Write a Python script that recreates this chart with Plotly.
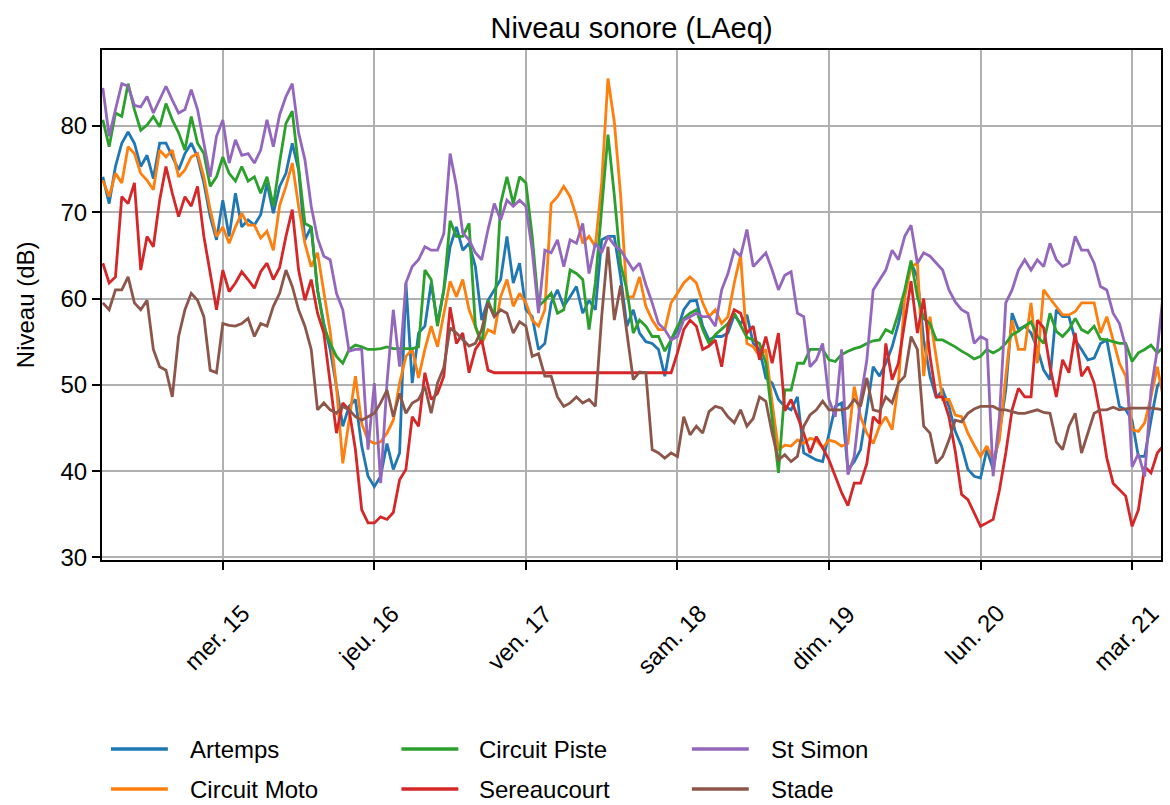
import pandas as pd
import plotly.graph_objects as go

# ---- data: hourly LAeq readings, starting 14th 05:00 ----
start_time = "2023-03-14 05:00"

artemps = [74.1, 71, 75.3, 78, 79.3, 78, 75.3, 76.6, 73.9, 78, 78, 76.4, 74.9, 76.8, 78, 76.4, 73.4, 69.5, 66.8, 71.4,
           67.2, 72.2, 68.3, 69.1, 68.5, 69.7, 73.4, 69.9, 73,
           74.5, 78, 74.9, 66.8, 68.3, 61, 57.1, 54.1, 49.8, 45.2, 47.5, 48.3, 42.9, 39.4, 38.2, 39.4, 43.2, 40.2, 42.1,
           61.8, 50.2, 56, 56.8, 61.8, 57.1, 61, 66,
           68.3, 65.6, 66.4, 63.7, 57.5, 59.8, 61, 62.2, 67.2, 61.8, 64.1, 58.7, 57.9, 54.1, 54.8, 59.5, 61, 59.1, 60.2,
           61.4, 58.3, 59.8, 58.7, 66.8, 67.2,
           67.2, 62.5, 56.8, 58.7, 56, 55, 54.8, 54.1, 51, 55.2, 56.4, 58.7, 59.7, 59.8, 56.8, 55.2, 55.6, 55.6, 56, 58.1,
           57.1, 58.1, 54.8, 54.1, 50.8, 50.2, 48.3,
           47.5, 47.1, 48.6, 42.1, 41.7, 41.3, 41.1, 44.4, 47.5, 47.9, 40.2, 41.1, 42.5, 47.1, 52.1, 51, 52.5, 54.4, 57.1,
           60.6, 64.1, 62.5, 55.2, 51, 48.5, 49.4, 47.5,
           44.6, 42.9, 40.2, 39.4, 39.2, 42.5, 40.2, 44.4, 49.4, 58.3, 56.4, 56.8, 56, 54.2, 51.7, 50.6, 58.7, 57.9, 57.9,
           55.2, 54.1, 52.9, 53.1, 54.8, 55.2, 51.4, 47.5, 47.1, 45.9, 41.7, 41.7, 45.9, 49.8, 51]

circuit_moto = [73.7, 71.8, 74.5, 73.4, 77.6, 76.8, 74.5, 73.7, 72.6, 77.2, 76.4, 77.2, 74.1, 74.9, 76.4, 76.8, 74.1,
                70.3, 67.2, 68.3, 66.4, 68.3, 69.9, 68.5, 68.5, 67, 67.8, 65.6, 70.8,
                73, 75.7, 70.7, 66.4, 63.7, 65.3, 61, 56.2, 49.8, 40.9, 45.9, 51, 45.5, 43.6, 43.2, 43.4, 44.4, 45.9,
                50.2, 53.3, 54.1, 50.8, 54.1, 56.8, 54.4, 58, 62,
                60.2, 62.2, 58.7, 56.8, 54.8, 56.4, 56, 60.2, 62.2, 59.1, 60.6, 59.5, 57.5, 56.8, 58.7, 71, 71.8, 73,
                71.8, 69.5, 66.4, 67.2, 66, 73.4, 85.5,
                80.5, 72, 60.2, 60.2, 62.5, 59.1, 57.5, 56.4, 56.4, 59.5, 60.6, 61.8, 62.5, 61.8, 59.5, 57.9, 58.7, 57.1,
                57.9, 61.8, 65, 54.8, 54.4, 53.3, 54.1, 47.9, 42.5,
                43, 42.9, 43.6, 43.2, 43.8, 43.6, 42.7, 43.6, 43.4, 42.9, 43.2, 49.8, 46.3, 44.4, 43.2, 45.2, 46.3, 44.8,
                50.2, 60.2, 63.7, 64.1, 51, 57.9, 52.9, 48.3, 48.3,
                46.5, 46.3, 44.4, 43, 41.7, 42.9, 41.3, 43.6, 51, 57.5, 54.1, 54.1, 59.5, 52.5, 61, 60, 59.1, 58.1, 58.1,
                58.5, 59.5, 59.5, 59.5, 56, 57.9, 55.2, 52.5, 51, 44.8, 44.6, 45.6, 48.6, 52.1, 48.3]

circuit_piste = [80.7, 77.6, 81.5, 81.1, 84.9, 81.9, 79.5, 80.1, 81.1, 79.9, 82.6, 80.7, 79.2, 77.2, 81.1, 78, 76.8,
                 73, 74.1, 76.4, 74.5, 73.6, 75.3, 73.6, 74.1, 72.2, 74.1, 70.7, 75.8,
                 80.3, 81.7, 75.5, 68.7, 68.3, 61, 56.8, 54.8, 53.3, 52.5, 54.1, 54.6, 54.4, 54.1, 54.1, 54.2, 54.4,
                 54.2, 54.2, 54.2, 54.2, 54.4, 63.3, 62.2, 56.8, 61, 69,
                 67.2, 67.2, 68.7, 56.8, 54.8, 59.8, 57.9, 71, 74.1, 71, 74.1, 73.4, 67.2, 59.1, 59.8, 60.6, 58.3, 58.7,
                 63.3, 62.9, 62.2, 56.4, 61.8, 70.3, 79,
                 72, 64, 61, 56, 57.5, 56.8, 55.6, 55.6, 53.9, 55.2, 56.8, 57.7, 58.3, 58.7, 56.4, 54.8, 55.8, 56.4,
                 57.1, 58.3, 56.8, 55.5, 55.2, 54.8, 52.5, 46.3, 39.8,
                 49.4, 49.4, 52.5, 52.5, 54.1, 54.1, 54.1, 52.9, 52.7, 53.5, 53.9, 54.2, 54.4, 54.8, 55.1, 55.2, 56.4,
                 56, 58.3, 61, 64.4, 60.2, 57.7, 57.1, 55.2, 55.2, 54.8,
                 54.4, 53.9, 53.5, 53, 53.3, 54.1, 53.7, 54.1, 54.8, 55.8, 56.2, 56.8, 57.3, 55.6, 54.8, 58.3, 56.2,
                 55.6, 56.4, 57.7, 56.4, 56, 56.8, 55.3, 55.2, 55, 54.8, 54.8, 52.7, 53.7, 54.1, 54.6, 53.7, 54.4]

sereaucourt = [64.1, 61.8, 62.5, 71.8, 71, 73.4, 63.3, 67.2, 66, 71.4, 75.3, 72.2, 69.5, 71.8, 70.7, 73, 67.2, 62.9,
               58.7, 63.3, 60.8, 61.8, 63.1, 62.2, 61.2, 63.1, 64.1, 62.2, 63.6,
               67.2, 70.3, 63.3, 59.8, 62.2, 58.3, 56, 50.2, 44.4, 47.9, 47.1, 42.5, 35.5, 34, 34, 34.7, 34.4, 35.2,
               39, 40.2, 46.3, 45.2, 51.4, 48.3, 49, 51, 59,
               54.8, 56, 51.4, 54.1, 55.2, 51.7, 51.4, 51.4, 51.4, 51.4, 51.4, 51.4, 51.4, 51.4, 51.4, 51.4, 51.4,
               51.4, 51.4, 51.4, 51.4, 51.4, 51.4, 51.4, 51.4,
               51.4, 51.4, 51.4, 51.4, 51.4, 51.4, 51.4, 51.4, 51.4, 51.4, 53.7, 56.4, 57.5, 56.8, 54.1, 54.5, 55.2,
               52.1, 56.8, 58.7, 58.3, 56, 56.8, 52.9, 55.6, 52.5, 56,
               47, 48.3, 46.3, 44.4, 42.1, 44, 42.7, 41.3, 39.4, 37.5, 36, 38.6, 38.6, 40.9, 46.3, 45.5, 54.8, 50.6,
               52.5, 57.5, 62, 56, 60, 53.3, 48.6, 48.6, 46.3,
               42.3, 37.3, 36.7, 35.1, 33.6, 34, 34.4, 37.8, 42.1, 47.1, 49.6, 48.6, 48.6, 57.5, 56.6, 52.1, 48.6,
               52.9, 51.4, 56, 51, 52.1, 50.2, 46.3, 41.5, 38.6, 37.8, 37.1, 33.6, 35.5, 40.5, 39.8, 42.1, 43]

st_simon = [84.4, 78.8, 81.9, 84.9, 84.6, 82.4, 82.2, 83.4, 81.5, 83, 84.6, 83, 81.5, 81.9, 84.2, 81.9, 78, 74.1,
            78.8, 80.7, 75.7, 78.4, 76.6, 76.8, 75.7, 77.2, 80.7, 77.6, 81.3,
            83.4, 84.9, 79.2, 76.1, 70.7, 67, 64.9, 64.5, 60.6, 58.7, 53.9, 54.1, 54.1, 42.5, 50.2, 38.6, 50.2, 58.7,
            52.1, 61.8, 63.7, 64.5, 66, 65.6, 65.6, 67.5, 76.8,
            73, 67.6, 66.8, 65.3, 64.5, 68, 71, 69.1, 71.4, 70.7, 71.4, 70.7, 65.6, 58.3, 65.6, 65.3, 66.8, 63.7,
            66.8, 66.4, 68.7, 62.9, 66.4, 65.3, 67.2,
            66.2, 65.6, 64.5, 63.3, 64.1, 61.6, 59.5, 57.1, 56.4, 55.2, 55.6, 57.5, 57.9, 58.3, 57.9, 57.9, 56.8, 61,
            62.9, 65.6, 64.9, 68, 63.7, 64.5, 65.3, 63.3, 61,
            62.7, 63.1, 58.3, 57.9, 52.1, 52.9, 54.8, 48.3, 46.3, 54.1, 39.6, 41.7, 48.3, 52.9, 61, 62.2, 63.3, 65.6,
            64.5, 67.2, 68.5, 64.1, 65.3, 64.9, 64.1, 63.3, 61,
            59.6, 58.7, 58.3, 54.8, 55.6, 55.2, 39.4, 46.3, 59.5, 61, 63.3, 64.5, 63.3, 64.5, 63.7, 66.4, 64.5, 63.7,
            64.1, 67.2, 65.6, 65.6, 64.1, 61.4, 61, 58.3, 57.1, 54.4, 40.5, 42, 39.4, 49.4, 54.1, 61]

stade = [59.5, 58.7, 61, 61, 62.5, 59.5, 58.7, 59.8, 54.1, 52.1, 51.7, 48.6, 55.6, 58.7, 60.6, 59.8, 57.9, 51.7,
         51.4, 57.1, 56.9, 56.8, 57.1, 57.7, 55.6, 57.1, 56.8, 59.1, 60.6,
         63.3, 61.4, 58.7, 56.8, 54.1, 47.1, 47.9, 47.1, 46.7, 47.5, 47.1, 46.3, 45.9, 46.3, 46.7, 47.9, 49.4, 46.3,
         49, 46.7, 47.9, 48.3, 49.8, 46.7, 50.2, 52, 56.6,
         56, 55.2, 54.5, 54.8, 56.4, 59.5, 57.9, 58.7, 58.3, 56, 57.3, 56.8, 53.3, 53.6, 51, 51, 48.6, 47.5, 47.9,
         48.6, 47.9, 48.3, 47.5, 57.9, 66,
         57.5, 61.5, 56, 50.6, 51.5, 51.4, 42.5, 42.1, 41.5, 42.1, 41.7, 46.3, 44.2, 45.2, 44.4, 46.9, 47.5, 47.3,
         46.3, 45.6, 47.1, 45.2, 46.1, 48.6, 48.1, 44.4, 41.3,
         41.9, 41.1, 41.7, 45.2, 46.5, 47.1, 48.1, 47.1, 47.1, 47.1, 47.3, 48.3, 47.5, 50.8, 47.1, 46.9, 48.6, 47.9,
         50.2, 51, 55.6, 54.1, 45.2, 44.4, 40.9, 41.7, 43.6,
         45.9, 45.7, 46.7, 47.2, 47.5, 47.5, 47.5, 47.1, 47.1, 46.9, 46.7, 46.7, 46.9, 47.1, 46.8, 46.7, 43.4, 42.5,
         45.2, 46.7, 42.1, 44.4, 46.7, 47.1, 47.1, 47.4, 47.1, 47.2, 47.3, 47.3, 47.3, 47.3, 47.2, 47.1]

series_names = ["Artemps", "Circuit Moto", "Circuit Piste", "Sereaucourt", "St Simon", "Stade"]
series_values = [artemps, circuit_moto, circuit_piste, sereaucourt, st_simon, stade]
series_colors = ["#1f77b4", "#ff7f0e", "#2ca02c", "#d62728", "#9467bd", "#8c564b"]

tick_dates = ["2023-03-15", "2023-03-16", "2023-03-17", "2023-03-18",
              "2023-03-19", "2023-03-20", "2023-03-21"]
tick_labels = ["mer. 15", "jeu. 16", "ven. 17", "sam. 18", "dim. 19", "lun. 20", "mar. 21"]
y_ticks = [30, 40, 50, 60, 70, 80]

for nm, vals in zip(series_names, series_values):
    if len(vals) != 169:
        raise ValueError(f"{nm} has {len(vals)} values")

times = pd.date_range(start_time, periods=169, freq="h")

FONT = "Liberation Sans, Arial, sans-serif"
W, H = 1170, 805
L, R, T, B = 102, 7, 50, 245
PW, PH = W - L - R, H - T - B


def px2x(px):
    return (px - L) / PW


def py2y(py):
    return (H - B - py) / PH


fig = go.Figure()
for name, vals, col in zip(series_names, series_values, series_colors):
    fig.add_trace(go.Scatter(x=times, y=vals, mode="lines", name=name,
                             line=dict(color=col, width=2.8), showlegend=False))

annotations = []
for d, lab in zip(tick_dates, tick_labels):
    annotations.append(dict(x=d, y=py2y(597), xref="x", yref="paper", text=lab,
                            showarrow=False, textangle=-45, xanchor="center",
                            yanchor="top", xshift=-6,
                            font=dict(family=FONT, size=24, color="black")))
annotations.append(dict(x=px2x(25), y=0.5, xref="paper", yref="paper",
                        text="Niveau (dB)", showarrow=False, textangle=-90,
                        xanchor="center", yanchor="middle",
                        font=dict(family=FONT, size=24, color="black")))

shapes = []
legend_cols = [(111, 168, 188), (402, 459, 478), (693, 750, 770)]
legend_rows = [749, 789]
for idx in range(len(series_names)):
    c, r = divmod(idx, 2)
    x0, x1, xt = legend_cols[c]
    yy = legend_rows[r]
    shapes.append(dict(type="line", xref="paper", yref="paper",
                       x0=px2x(x0), x1=px2x(x1), y0=py2y(yy), y1=py2y(yy),
                       line=dict(color=series_colors[idx], width=3.5)))
    annotations.append(dict(x=px2x(xt), y=py2y(yy), xref="paper", yref="paper",
                            text=series_names[idx], showarrow=False,
                            xanchor="left", yanchor="middle",
                            font=dict(family=FONT, size=24, color="black")))

fig.update_layout(
    width=W, height=H,
    margin=dict(l=L, r=R, t=T, b=B, pad=0),
    paper_bgcolor="white", plot_bgcolor="white",
    title=dict(text="Niveau sonore (LAeq)", x=0.5, xref="paper", xanchor="center",
               y=1 - 28 / H, yref="container", yanchor="middle",
               font=dict(family=FONT, size=29, color="black")),
    font=dict(family=FONT, size=24, color="black"),
    annotations=annotations,
    shapes=shapes,
    showlegend=False,
)
fig.update_xaxes(range=["2023-03-14 04:52", "2023-03-21 04:35"],
                 tickvals=tick_dates, showticklabels=False,
                 ticks="outside", ticklen=8, tickwidth=2, tickcolor="black",
                 showgrid=True, gridcolor="#b0b0b0", gridwidth=2,
                 showline=True, linecolor="black", linewidth=2, mirror=True,
                 zeroline=False)
fig.update_yaxes(range=[29.7, 88.8], tickvals=y_ticks,
                 ticks="outside", ticklen=8, tickwidth=2, tickcolor="black",
                 tickfont=dict(family=FONT, size=24, color="black"),
                 showgrid=True, gridcolor="#b0b0b0", gridwidth=2,
                 showline=True, linecolor="black", linewidth=2, mirror=True,
                 zeroline=False)

fig.write_html("out.html", config={"displayModeBar": False},
               post_script="document.body.style.margin='0px';")
